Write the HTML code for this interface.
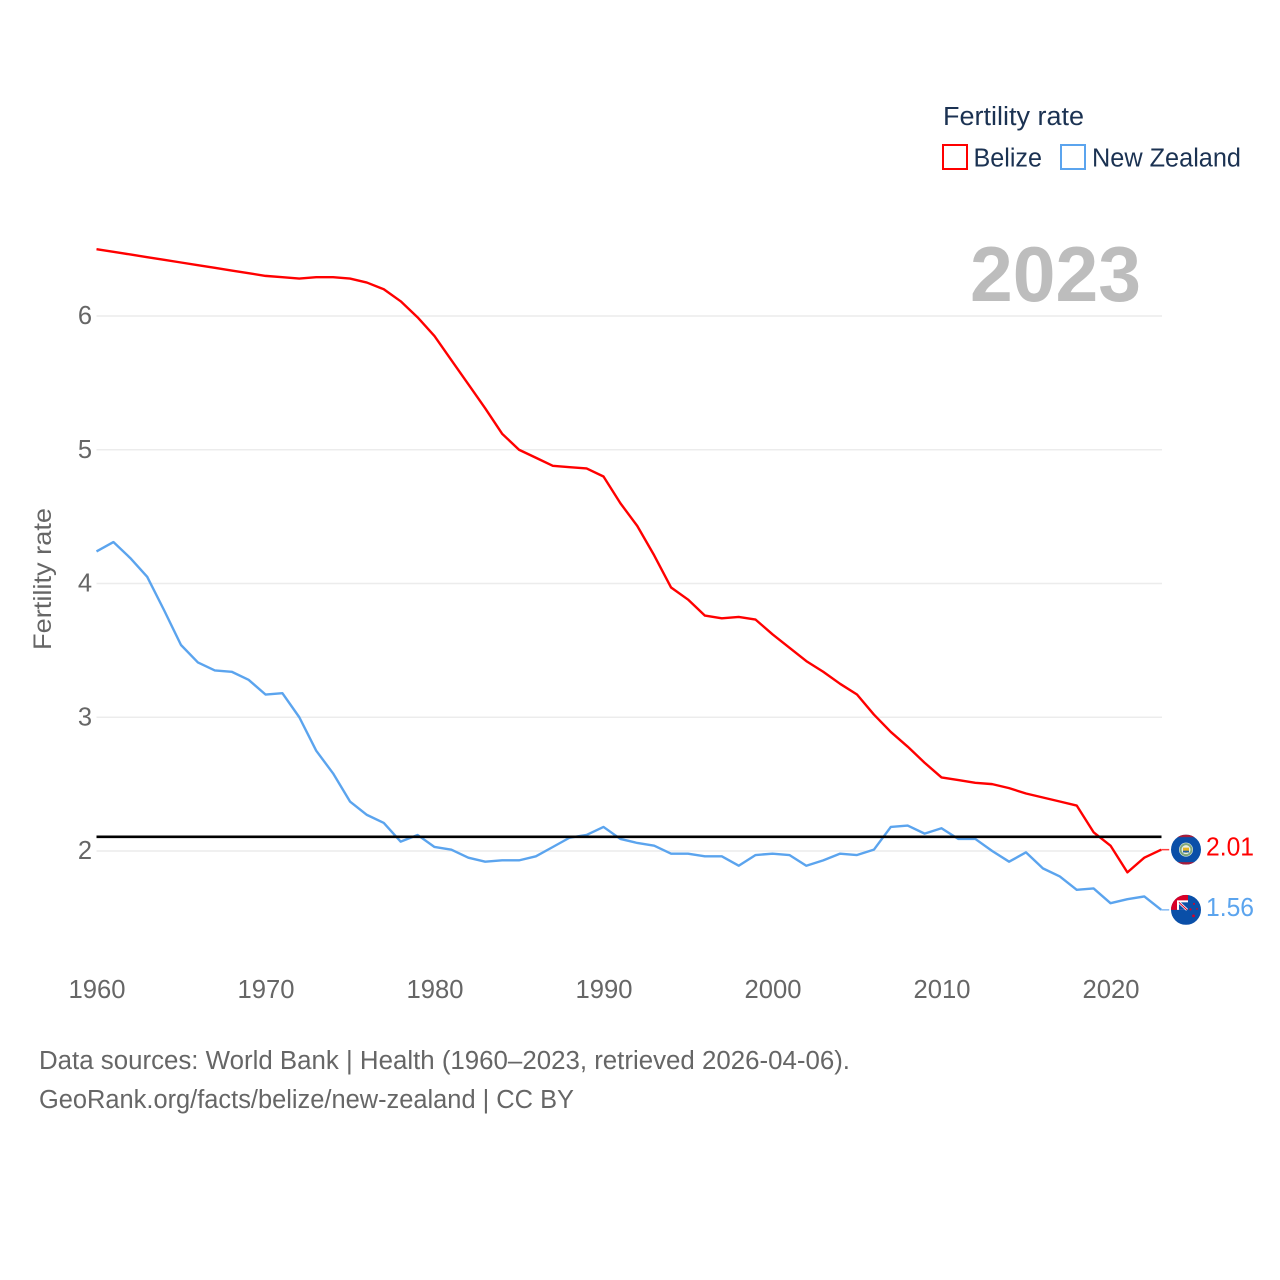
<!DOCTYPE html>
<html lang="en">
<head>
<meta charset="utf-8">
<title>Fertility rate: Belize and New Zealand</title>
<style>
html,body{margin:0;padding:0;background:#fff;width:1280px;height:1280px;overflow:hidden}
svg{display:block}
text{font-family:"Liberation Sans",sans-serif}
</style>
</head>
<body>
<svg id="chart" xmlns="http://www.w3.org/2000/svg" width="1280" height="1280" viewBox="0 0 1280 1280">
  <defs>
    <clipPath id="flag-clip-belize"><circle cx="0" cy="0" r="15"/></clipPath>
    <clipPath id="flag-clip-nz"><circle cx="0" cy="0" r="15"/></clipPath>
  </defs>
  <rect width="1280" height="1280" fill="#ffffff"/>

  <g id="grid"></g>
  <g id="y-ticks"></g>
  <g id="x-ticks"></g>

  <text x="970" y="301" font-size="78" font-weight="700" fill="#bdbdbd" textLength="171" lengthAdjust="spacingAndGlyphs">2023</text>

  <text transform="translate(51,650) rotate(-90)" font-size="25" fill="#666666" textLength="142" lengthAdjust="spacingAndGlyphs">Fertility rate</text>

  <g>
    <text x="943" y="125" font-size="25.5" fill="#1b3252" textLength="141" lengthAdjust="spacingAndGlyphs">Fertility rate</text>
    <g>
      <rect x="943" y="145" width="24" height="24" fill="#ffffff" stroke="#ff0000" stroke-width="2"/>
      <text x="973.5" y="166.5" font-size="25.5" fill="#1b3252" textLength="68.5" lengthAdjust="spacingAndGlyphs">Belize</text>
    </g>
    <g>
      <rect x="1061" y="145" width="24" height="24" fill="#ffffff" stroke="#5ba4ee" stroke-width="2"/>
      <text x="1092" y="166.5" font-size="25.5" fill="#1b3252" textLength="149" lengthAdjust="spacingAndGlyphs">New Zealand</text>
    </g>
  </g>

  <g id="series"></g>
  <g id="ends"></g>

  <text x="39" y="1069" font-size="25.5" fill="#666666" textLength="811" lengthAdjust="spacingAndGlyphs">Data sources: World Bank | Health (1960–2023, retrieved 2026-04-06).</text>
  <text x="39" y="1108" font-size="25.5" fill="#666666" textLength="535" lengthAdjust="spacingAndGlyphs">GeoRank.org/facts/belize/new-zealand | CC BY</text>
</svg>

<script>
const startYear = 1960;
const belizeValues = [6.50,6.48,6.46,6.44,6.42,6.40,6.38,6.36,6.34,6.32,6.30,6.29,6.28,6.29,6.29,6.28,6.25,6.20,6.11,5.99,5.85,5.67,5.49,5.31,5.12,5.00,4.94,4.88,4.87,4.86,4.80,4.60,4.43,4.21,3.97,3.88,3.76,3.74,3.75,3.73,3.62,3.52,3.42,3.34,3.25,3.17,3.02,2.89,2.78,2.66,2.55,2.53,2.51,2.50,2.47,2.43,2.40,2.37,2.34,2.14,2.04,1.84,1.95,2.01];
const newZealandValues = [4.24,4.31,4.19,4.05,3.80,3.54,3.41,3.35,3.34,3.28,3.17,3.18,3.00,2.75,2.58,2.37,2.27,2.21,2.07,2.12,2.03,2.01,1.95,1.92,1.93,1.93,1.96,2.03,2.10,2.12,2.18,2.09,2.06,2.04,1.98,1.98,1.96,1.96,1.89,1.97,1.98,1.97,1.89,1.93,1.98,1.97,2.01,2.18,2.19,2.13,2.17,2.09,2.09,2.00,1.92,1.99,1.87,1.81,1.71,1.72,1.61,1.64,1.66,1.56];
const xTickYears = [1960,1970,1980,1990,2000,2010,2020];
const yTickValues = [2,3,4,5,6];
const referenceValue = 2.1;

const SVG_NS = 'http://www.w3.org/2000/svg';
const xScale = function (year) { return 96.5 + (year - 1960) * 16.9; };
const yScale = function (v) { return 851 - (v - 2) * 133.75; };
const make = function (tag, parent, attrs) {
  const el = document.createElementNS(SVG_NS, tag);
  Object.keys(attrs).forEach(function (k) { el.setAttribute(k, attrs[k]); });
  parent.appendChild(el);
  return el;
};
const gridG = document.getElementById('grid');
const yG = document.getElementById('y-ticks');
const xG = document.getElementById('x-ticks');
const seriesG = document.getElementById('series');
const endsG = document.getElementById('ends');

yTickValues.forEach(function (v) {
  const line = make('line', gridG, {x1: 96.5, x2: 1162, y1: yScale(v), y2: yScale(v), stroke: '#ececec', 'stroke-width': 1.5});
  
  
  const label = make('text', yG, {x: 92, y: yScale(v) + 8, 'font-size': 25.5, fill: '#666666', 'text-anchor': 'end'});
  
  
  label.textContent = String(v);
});

xTickYears.forEach(function (y) {
  const label = make('text', xG, {x: xScale(y) - 28, y: 998, 'font-size': 25.5, fill: '#666666', textLength: 57, lengthAdjust: 'spacingAndGlyphs'});
  
  
  label.textContent = String(y);
});

function drawSeries(values, color, name) {
  const pts = values.map(function (v, i) { return xScale(startYear + i).toFixed(2) + ',' + yScale(v).toFixed(2); });
  const line = make('polyline', seriesG, {points: pts.join(' '), fill: 'none', stroke: color, 'stroke-width': 2.4, 'stroke-linejoin': 'round'});
  
  
}
drawSeries(newZealandValues, '#5ba4ee', 'new-zealand-line');
drawSeries(belizeValues, '#ff0000', 'belize-line');

const refLine = make('line', seriesG, {x1: 96.5, x2: 1161.5, y1: yScale(referenceValue) - 0.8, y2: yScale(referenceValue) - 0.8, stroke: '#000000', 'stroke-width': 2.6});



function drawEnd(values, color, name, labelOffset, clipId, drawFlag) {
  const last = values[values.length - 1];
  const y = yScale(last);
  const x = xScale(startYear + values.length - 1);
  const stub = make('line', endsG, {x1: x, x2: x + 8, y1: y, y2: y, stroke: color, 'stroke-width': 1.5, opacity: 0.75});
  
  
  const flag = make('g', endsG, {transform: 'translate(1186,' + y + ')', 'clip-path': 'url(#' + clipId + ')'});
  
  
  drawFlag(flag);
  const label = make('text', endsG, {x: 1206, y: y + labelOffset, 'font-size': 25.5, fill: color, textLength: 48, lengthAdjust: 'spacingAndGlyphs'});
  
  
  label.textContent = last.toFixed(2);
}

function belizeFlag(g) {
  make('rect', g, {x: -15, y: -15, width: 30, height: 30, fill: '#0a4fa8'});
  make('rect', g, {x: -15, y: -15, width: 30, height: 2.5, fill: '#a81c3a'});
  make('rect', g, {x: -15, y: 12.5, width: 30, height: 2.5, fill: '#a81c3a'});
  make('circle', g, {cx: 0, cy: 0, r: 7, fill: '#e8efe6'});
  make('circle', g, {cx: 0, cy: 0, r: 5.5, fill: 'none', stroke: '#7fa77a', 'stroke-width': 2});
  make('path', g, {d: 'M-3 -2H3V1.5L0 3.5L-3 1.5Z', fill: '#e6b422'});
  make('rect', g, {x: -3, y: 1, width: 6, height: 1.8, fill: '#1f5fa8'});
}

function nzFlag(g) {
  make('rect', g, {x: -15, y: -15, width: 30, height: 30, fill: '#0a4fa8'});
  make('rect', g, {x: -15, y: -15, width: 17, height: 15, fill: '#d80027'});
  make('rect', g, {x: -9, y: -9.5, width: 11, height: 9.5, fill: '#ffffff'});
  make('rect', g, {x: -7, y: -7.5, width: 9, height: 7.5, fill: '#0a4fa8'});
  make('path', g, {d: 'M-7 -7.5L1 0', stroke: '#ffffff', 'stroke-width': 2.6, fill: 'none'});
  make('path', g, {d: 'M-7 -7.5L1 0', stroke: '#d80027', 'stroke-width': 1, fill: 'none'});
  make('circle', g, {cx: 4.5, cy: -0.5, r: 1.1, fill: '#d80027'});
  make('circle', g, {cx: 8, cy: -6, r: 1, fill: '#d80027'});
  make('circle', g, {cx: 11, cy: -1, r: 0.9, fill: '#d80027'});
  make('circle', g, {cx: 7.5, cy: 6, r: 1.4, fill: '#d80027'});
}

drawEnd(belizeValues, '#ff0000', 'belize', 6, 'flag-clip-belize', belizeFlag);
drawEnd(newZealandValues, '#5ba4ee', 'new-zealand', 6, 'flag-clip-nz', nzFlag);
</script>
</body>
</html>
